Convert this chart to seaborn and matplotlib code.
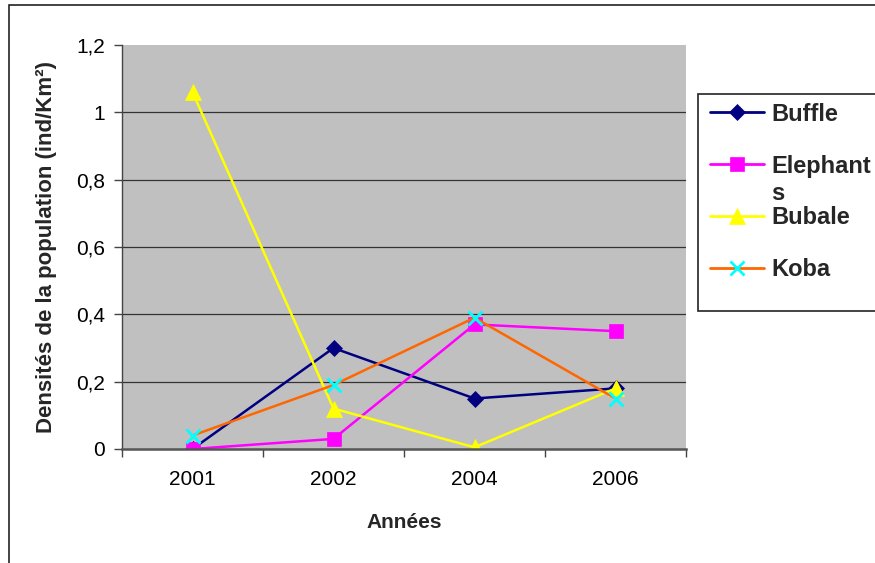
import matplotlib
matplotlib.use("Agg")
import matplotlib.pyplot as plt
from matplotlib.lines import Line2D
from matplotlib.patches import Rectangle
from matplotlib.ticker import FixedLocator, FuncFormatter
import seaborn as sns

years = ["2001", "2002", "2004", "2006"]
buffle = [0.00, 0.30, 0.15, 0.18]
elephants = [0.00, 0.03, 0.37, 0.35]
bubale = [1.06, 0.12, 0.005, 0.18]
koba = [0.04, 0.19, 0.39, 0.15]

series_names = ["Buffle", "Elephants", "Bubale", "Koba"]
legend_labels = ["Buffle", "Elephant", "Bubale", "Koba"]
y_ticks = [0, 0.2, 0.4, 0.6, 0.8, 1.0, 1.2]

line_colors = ["#000080", "#FF00FF", "#FFFF00", "#FF6600"]
marker_colors = ["#000080", "#FF00FF", "#FFFF00", "#00FFFF"]
markers = ["D", "s", "^", "x"]
marker_sizes = [8, 10, 11, 10]

sns.set_theme(style="white")
plt.rcParams["font.family"] = ["Liberation Sans", "DejaVu Sans"]

W, H = 875, 563
fig = plt.figure(figsize=(W / 100, H / 100), dpi=100)
ax = fig.add_axes([122 / W, 1 - 449 / H, (686 - 122) / W, (449 - 45) / H])
ax.set_facecolor("#C0C0C0")

data = [buffle, elephants, bubale, koba]
for vals, lc, mc, mk, ms in zip(data, line_colors, marker_colors, markers, marker_sizes):
    n_before = len(ax.lines)
    sns.pointplot(x=years, y=vals, color=lc, marker=mk, markersize=ms,
                  linewidth=1.8, errorbar=None, ax=ax)
    for ln in ax.lines[n_before:]:
        ln.set_markerfacecolor(mc)
        ln.set_markeredgecolor(mc)
        ln.set_markeredgewidth(2 if mk == "x" else 0.5)

ax.set_xlim(-0.5, 3.5)
ax.set_ylim(0, 1.2)

# horizontal gridlines
for yv in y_ticks[1:-1]:
    ax.axhline(yv, color="#333333", linewidth=0.9, zorder=0.5)

ax.yaxis.set_major_locator(FixedLocator(y_ticks))
ax.yaxis.set_major_formatter(FuncFormatter(lambda v, p: ("%g" % v).replace(".", ",")))
ax.xaxis.set_minor_locator(FixedLocator([-0.5, 0.5, 1.5, 2.5, 3.5]))
ax.tick_params(axis="x", which="major", length=0, pad=15, labelsize=15, labelcolor="black")
ax.tick_params(axis="x", which="minor", length=6, width=1, color="#444444", bottom=True)
ax.tick_params(axis="y", which="major", length=6, width=1, color="#444444",
               left=True, labelsize=15, pad=6, labelcolor="black")

for side in ["top", "right"]:
    ax.spines[side].set_visible(False)
ax.spines["left"].set_color("#444444")
ax.spines["left"].set_linewidth(1)
ax.spines["bottom"].set_color("#555555")
ax.spines["bottom"].set_linewidth(1.8)

ax.set_xlabel("Années", fontsize=15, fontweight="bold")
ax.xaxis.set_label_coords(0.5, (449 - 522) / (449 - 45))
ax.xaxis.label.set_va("center")
ax.set_ylabel("Densités de la population (ind/Km²)", fontsize=16, fontweight="bold")
ax.yaxis.set_label_coords((47 - 122) / (686 - 122), 0.5)
ax.yaxis.label.set_va("center")

# legend box
fig.patches.append(Rectangle((698 / W, 1 - 311 / H), 0.5, (311 - 94) / H,
                             transform=fig.transFigure, facecolor="white",
                             edgecolor="#222222", linewidth=1.2, zorder=1))

handles = []
for lc, mc, mk, ms in zip(line_colors, marker_colors, markers, marker_sizes):
    handles.append(Line2D([0], [0], color=lc, linewidth=2, marker=mk, markersize=ms,
                          markerfacecolor=mc, markeredgecolor=mc,
                          markeredgewidth=2 if mk == "x" else 0.5))
leg = fig.legend(handles, legend_labels, loc="upper left",
                 bbox_to_anchor=(705 / W, 1 - 98 / H), borderaxespad=0,
                 frameon=False, prop={"size": 17, "weight": "bold"},
                 handlelength=2.3, handletextpad=0.3, labelspacing=1.22,
                 borderpad=0.2)
leg.set_zorder(2)

# wrapped tail of the "Elephants" label
fig.canvas.draw()
bb = leg.get_texts()[1].get_window_extent()
fig.text(bb.x0 / W, (bb.y0 - 4) / H, "s", fontsize=17, fontweight="bold",
         ha="left", va="top", zorder=3)

# outer chart frame
fig.patches.append(Rectangle((9 / W, -0.05), 1.0, 1 - 5 / H + 0.05,
                             transform=fig.transFigure, fill=False,
                             edgecolor="#222222", linewidth=1.2))

fig.savefig("out.png", dpi=100)
